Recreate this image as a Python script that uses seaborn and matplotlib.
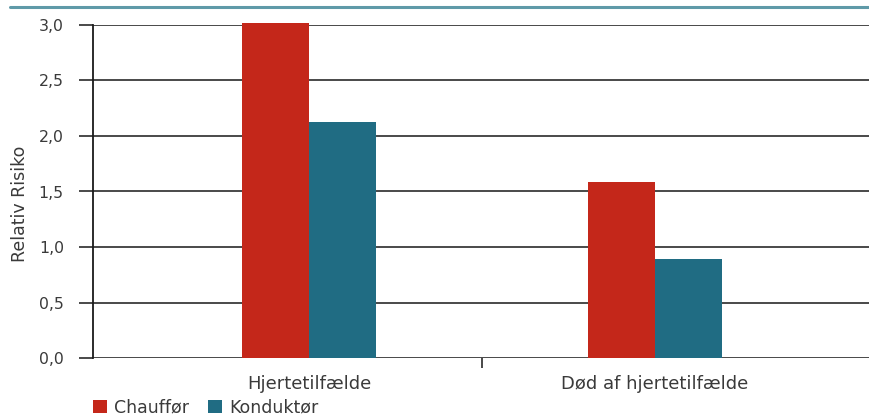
import matplotlib
matplotlib.use("Agg")
import matplotlib.pyplot as plt
from matplotlib.patches import Patch
from matplotlib.lines import Line2D
import seaborn as sns
import pandas as pd

categories = ["Hjertetilfælde", "Død af hjertetilfælde"]
groups = ["Chauffør", "Konduktør"]
chauffoer = [3.02, 1.59]
konduktoer = [2.13, 0.89]
y_ticks = [0.0, 0.5, 1.0, 1.5, 2.0, 2.5, 3.0]
y_tick_labels = ["0,0", "0,5", "1,0", "1,5", "2,0", "2,5", "3,0"]
colors = {"Chauffør": "#C4271A", "Konduktør": "#206C83"}

df = pd.DataFrame({
    "kategori": categories * 2,
    "gruppe": [groups[0]] * len(categories) + [groups[1]] * len(categories),
    "risiko": chauffoer + konduktoer,
})

sns.set_theme(style="white")
plt.rcParams["font.family"] = ["DejaVu Sans"]

text_color = "#3a3a3a"
fig = plt.figure(figsize=(8.7, 4.15), dpi=100)
ax = fig.add_axes([93 / 870, 57 / 415, 777 / 870, 333 / 415])

sns.barplot(data=df, x="kategori", y="risiko", hue="gruppe", order=categories,
            hue_order=groups, palette=colors, width=0.387, saturation=1,
            linewidth=0, legend=False, ax=ax, zorder=3)
for bar in ax.patches:
    bar.set_clip_on(False)

ax.set_xlim(-0.624, 1.621)
ax.set_ylim(0, 3.0)
ax.set_yticks(y_ticks)
ax.set_yticklabels(y_tick_labels)
ax.yaxis.grid(True, color="#3a3a3a", linewidth=1.3, zorder=0)
ax.set_axisbelow(True)

# category ticks: labels under the groups, one tick mark between them
ax.set_xticks([0, 1])
ax.set_xticklabels(categories)
ax.tick_params(axis="x", length=0, pad=12, labelsize=13, labelcolor=text_color)
ax.set_xticks([0.5], minor=True)
ax.tick_params(axis="x", which="minor", length=7, width=1.3, color="#3a3a3a",
               direction="out", bottom=True)
ax.tick_params(axis="y", length=10, width=1.3, color="#3a3a3a", direction="out",
               left=True, pad=11, labelsize=11.3, labelcolor=text_color)

for side in ["top", "right", "bottom"]:
    ax.spines[side].set_visible(False)
ax.spines["left"].set_color("#1a1a1a")
ax.spines["left"].set_linewidth(1.3)
ax.spines["left"].set_zorder(4)

ax.set_xlabel("")
ax.set_ylabel("Relativ Risiko", fontsize=12.5, color=text_color)
ax.yaxis.set_label_coords(-0.082, 0.464)

# rule across the top of the figure
fig.add_artist(Line2D([10 / 870, 1.0], [1 - 7 / 415, 1 - 7 / 415],
                      color="#5f9aa8", linewidth=2.2, transform=fig.transFigure))

handles = [Patch(facecolor=colors[g], edgecolor="none", label=g) for g in groups]
fig.legend(handles=handles, loc="lower left", bbox_to_anchor=(83 / 870, -12 / 415),
           ncol=2, frameon=False, fontsize=12.5, handlelength=0.8, handleheight=0.8,
           handletextpad=0.4, columnspacing=1.1, labelcolor=text_color,
           borderaxespad=0.2)

fig.savefig("out.png", dpi=100)
